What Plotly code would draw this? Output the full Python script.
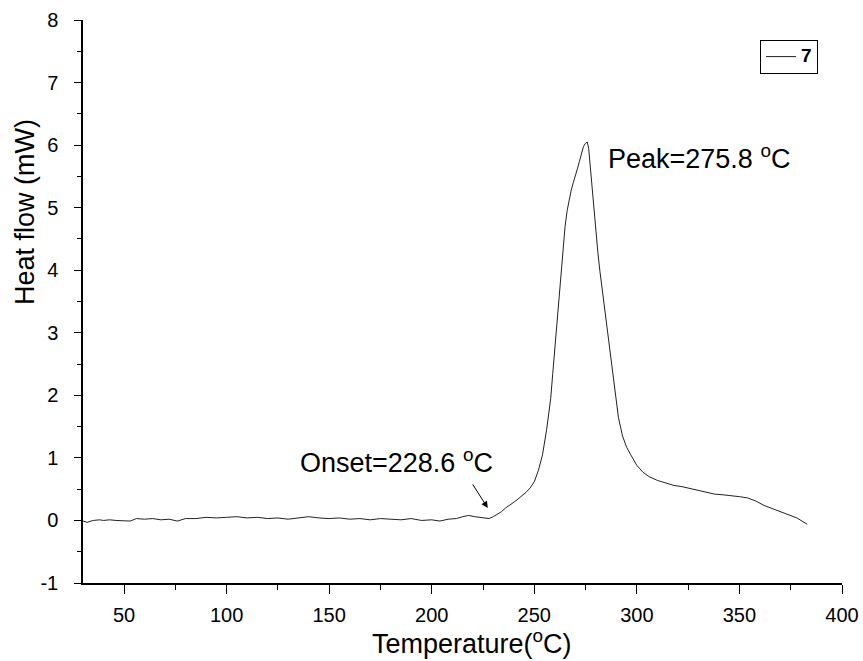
import plotly.graph_objects as go

temperature = [30, 32, 35, 38, 40, 43, 46, 50, 53, 56, 60, 64, 68, 72, 76, 80, 85, 90, 95, 100,
               105, 110, 115, 120, 125, 130, 135, 140, 145, 150, 155, 160, 165, 170, 175, 180,
               185, 190, 195, 200, 204, 208, 212, 215, 218, 221, 224, 226, 228, 230, 232, 234,
               236, 238, 240, 242, 244, 246, 248, 250, 252, 254, 256, 258, 259, 260, 261, 262,
               263, 264, 265, 266, 267, 268, 269, 270, 271, 272, 273, 274, 275, 275.8, 276.5,
               277, 278, 279, 280, 281, 282, 283, 284, 285, 286, 287, 289, 291, 293, 295, 297,
               300, 303, 306, 310, 314, 318, 322, 326, 330, 334, 338, 342, 346, 350, 354, 358,
               362, 366, 370, 374, 378, 381, 383]
heat_flow = [-0.01, -0.03, 0.0, 0.01, 0.0, 0.01, 0.0, 0.0, -0.01, 0.03, 0.02, 0.03, 0.01, 0.02,
             -0.01, 0.03, 0.03, 0.05, 0.04, 0.05, 0.06, 0.04, 0.05, 0.03, 0.04, 0.02, 0.04, 0.06,
             0.04, 0.03, 0.04, 0.02, 0.03, 0.01, 0.03, 0.02, 0.01, 0.03, 0.0, 0.01, -0.01, 0.02,
             0.03, 0.06, 0.08, 0.06, 0.05, 0.04, 0.03, 0.06, 0.10, 0.14, 0.20, 0.24, 0.29, 0.34,
             0.39, 0.45, 0.52, 0.62, 0.80, 1.05, 1.45, 1.95, 2.35, 2.75, 3.15, 3.55,
             3.95, 4.35, 4.70, 4.95, 5.15, 5.28, 5.40, 5.50, 5.62, 5.74, 5.88, 5.98, 6.03, 6.05, 5.95,
             5.75, 5.40, 5.02, 4.62, 4.28, 3.98, 3.72, 3.42, 3.15, 2.88, 2.62, 2.12, 1.65, 1.35, 1.17, 1.05,
             0.88, 0.77, 0.70, 0.64, 0.60, 0.56, 0.54, 0.51, 0.48, 0.44, 0.42, 0.41, 0.40, 0.38,
             0.36, 0.31, 0.24, 0.19, 0.14, 0.10, 0.04, -0.02, -0.06]

series_name = "7"
peak_label = "Peak=275.8 <sup>o</sup>C"
onset_label = "Onset=228.6 <sup>o</sup>C"
x_title = "Temperature(<sup>o</sup>C)"
y_title = "Heat flow (mW)"
x_ticks = [50, 100, 150, 200, 250, 300, 350, 400]
x_tick_labels = ["50", "100", "150", "200", "250", "300", "350", "400"]
y_ticks = [-1, 0, 1, 2, 3, 4, 5, 6, 7, 8]
y_tick_labels = ["-1", "0", "1", "2", "3", "4", "5", "6", "7", "8"]

FONT = "Liberation Sans, Arial, sans-serif"

W, H = 863, 661
PL, PR, PT, PB = 83, 842, 20, 583
PW, PH = PR - PL, PB - PT

fig = go.Figure()
fig.add_trace(go.Scatter(
    x=temperature, y=heat_flow, mode="lines",
    name='<span style="font-size:19px"><b>' + series_name + "</b></span>",
    line=dict(color="#222222", width=1),
))

fig.add_annotation(x=285.1, y=5.81, xref="x", yref="y", text=peak_label,
                   showarrow=False, xanchor="left", yanchor="middle",
                   font=dict(family=FONT, size=27, color="black"))
fig.add_annotation(x=134.7, y=0.945, xref="x", yref="y", text=onset_label,
                   showarrow=False, xanchor="left", yanchor="middle",
                   font=dict(family=FONT, size=27, color="black"))
fig.add_annotation(x=227.3, y=0.2, xref="x", yref="y", text="",
                   showarrow=True, arrowhead=2, arrowsize=1.3, arrowwidth=1,
                   arrowcolor="black", ax=-16, ay=-25, standoff=0)

# axis titles
fig.add_annotation(x=(472 - PL) / PW, y=-(642 - PB) / PH, xref="paper", yref="paper",
                   text=x_title, showarrow=False, xanchor="center", yanchor="middle",
                   font=dict(family=FONT, size=27, color="black"))
fig.add_annotation(x=-(PL - 25) / PW, y=(PB - 212) / PH, xref="paper", yref="paper",
                   text=y_title, showarrow=False, xanchor="center", yanchor="middle",
                   textangle=-90, font=dict(family=FONT, size=27, color="black"))

axis_common = dict(
    showline=True, linecolor="black", linewidth=1.5, mirror=False,
    showgrid=False, zeroline=False, ticks="outside", tickwidth=1,
    tickcolor="black", tickfont=dict(family=FONT, size=20, color="black"),
    automargin=False,
)

fig.update_xaxes(range=[30, 400], tickvals=x_ticks, ticktext=x_tick_labels,
                 ticklen=9, ticklabelstandoff=4,
                 minor=dict(dtick=25, tick0=0, ticks="outside", ticklen=5, tickcolor="black"),
                 **axis_common)
fig.update_yaxes(range=[-1, 8], tickvals=y_ticks, ticktext=y_tick_labels,
                 ticklen=7, ticklabelstandoff=12,
                 minor=dict(dtick=0.5, tick0=0, ticks="outside", ticklen=4, tickcolor="black"),
                 **axis_common)

fig.update_layout(
    width=W, height=H,
    margin=dict(l=PL, r=W - PR, t=PT, b=H - PB),
    plot_bgcolor="white", paper_bgcolor="white",
    showlegend=True,
    legend=dict(x=(818 - PL) / PW, y=(PB - 40) / PH, xanchor="right", yanchor="top",
                bordercolor="black", borderwidth=1, bgcolor="white",
                font=dict(family=FONT, size=14, color="black"),
                itemwidth=30, tracegroupgap=0),
)

# remove the browser's default 8px page margin so the figure fills the window
fig.write_html("out.html", config={"displayModeBar": False},
               post_script="document.body.style.margin='0px';")
